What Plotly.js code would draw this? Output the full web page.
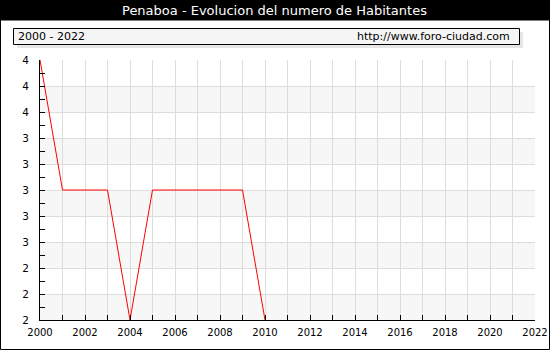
<!DOCTYPE html>
<html><head><meta charset="utf-8">
<script src="https://cdn.plot.ly/plotly-3.0.1.min.js"></script>
<style>html,body{margin:0;padding:0;background:#fff}#c{width:550px;height:350px}</style>
</head><body><div id="c"></div>
<script>
const years = [2000,2001,2002,2003,2004,2005,2006,2007,2008,2009,2010];
const habitantes = [4,3,3,3,2,3,3,3,3,3,2];
const yTickVals = [2,2.2,2.4,2.6,2.8,3,3.2,3.4,3.6,3.8,4];
const yTickText = ["2","2","2","3","3","3","3","3","4","4","4"];
const xTickVals = [2000,2002,2004,2006,2008,2010,2012,2014,2016,2018,2020,2022];
const titleText = "Penaboa - Evolucion del numero de Habitantes";
const periodText = "2000 - 2022";
const siteText = "http://www.foro-ciudad.com";

const W=550,H=350,L=40,R=15,T=60,B=30;
const pw=W-L-R, ph=H-T-B;
const px=x=>(x-L)/pw, py=y=>(H-B-y)/ph;

const shapes=[];
for(let i=0;i<yTickVals.length-1;i+=2){
  shapes.push({type:'rect',xref:'paper',yref:'y',x0:0,x1:1,y0:yTickVals[i],y1:yTickVals[i+1],fillcolor:'#f7f7f7',line:{width:0},layer:'below'});
}
shapes.push({type:'rect',xref:'paper',yref:'paper',x0:px(0),x1:px(W),y0:py(0),y1:py(20.5),fillcolor:'#000',line:{width:0}});
shapes.push({type:'rect',xref:'paper',yref:'paper',x0:px(17),x1:px(523),y0:py(32),y1:py(48),fillcolor:'#e6e6e6',line:{width:0}});
shapes.push({type:'rect',xref:'paper',yref:'paper',x0:px(13.5),x1:px(519.5),y0:py(28.5),y1:py(44.5),fillcolor:'#f5f5f5',line:{color:'#000',width:1}});
shapes.push({type:'rect',xref:'paper',yref:'paper',x0:px(0.5),x1:px(549.5),y0:py(0.5),y1:py(349.5),line:{color:'#000',width:1}});

const annotations=[
 {xref:'paper',yref:'paper',x:px(274),y:py(10.5),text:titleText,showarrow:false,font:{family:'DejaVu Sans',size:13,color:'#fff'},xanchor:'center',yanchor:'middle'},
 {xref:'paper',yref:'paper',x:px(16),y:py(36.5),text:periodText,showarrow:false,font:{family:'DejaVu Sans',size:11,color:'#000'},xanchor:'left',yanchor:'middle'},
 {xref:'paper',yref:'paper',x:px(512),y:py(36.5),text:siteText,showarrow:false,font:{family:'DejaVu Sans',size:11,color:'#000'},xanchor:'right',yanchor:'middle'}
];

const trace={x:years,y:habitantes,type:'scatter',mode:'lines',line:{color:'#ff0000',width:1},hoverinfo:'skip'};

const layout={
 width:W,height:H,margin:{l:L,r:R,t:T,b:B,pad:0},
 paper_bgcolor:'#fff',plot_bgcolor:'rgba(0,0,0,0)',showlegend:false,
 font:{family:'DejaVu Sans',size:10,color:'#000'},
 xaxis:{range:[2000,2022],tickvals:xTickVals,ticktext:xTickVals.map(String),ticks:'inside',ticklen:5,tickcolor:'#000',
   showgrid:true,gridcolor:'#dddddd',gridwidth:1,showline:true,linecolor:'#000',linewidth:1,zeroline:false,
   ticklabeloverflow:'allow',ticklabelstandoff:3,
   minor:{dtick:1,tick0:2000,ticks:'inside',ticklen:5,tickcolor:'#000',showgrid:true,gridcolor:'#dddddd',gridwidth:1},
   tickfont:{family:'DejaVu Sans',size:10,color:'#000'},fixedrange:true},
 yaxis:{range:[2,4],tickvals:yTickVals,ticktext:yTickText,ticks:'inside',ticklen:5,tickcolor:'#000',
   showgrid:true,gridcolor:'#dddddd',gridwidth:1,showline:true,linecolor:'#000',linewidth:1,zeroline:false,
   minor:{dtick:0.1,tick0:2,ticks:'inside',ticklen:5,tickcolor:'#000',showgrid:false},
   tickfont:{family:'DejaVu Sans',size:10.5,color:'#000'},ticklabelstandoff:8,fixedrange:true},
 shapes:shapes,annotations:annotations
};
Plotly.newPlot('c',[trace],layout,{displayModeBar:false,staticPlot:true});
</script></body></html>
